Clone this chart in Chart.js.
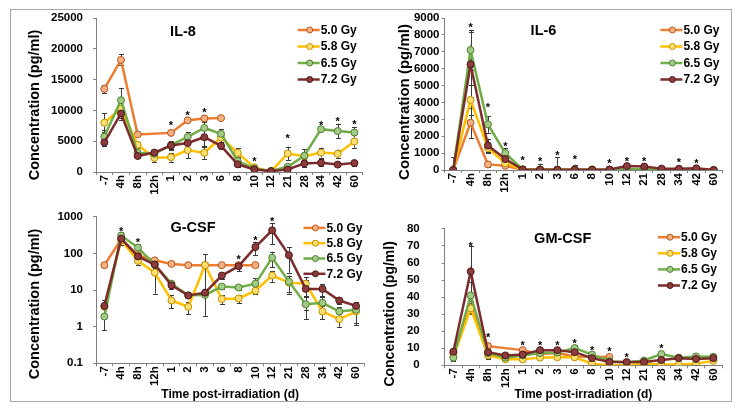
<!DOCTYPE html>
<html>
<head>
<meta charset="utf-8">
<script src="https://cdn.jsdelivr.net/npm/chart.js@4.4.0/dist/chart.umd.min.js"></script>
<style>
  body { margin: 0; background: #fff; width: 741px; height: 414px; overflow: hidden; position: relative; }
  #frame { position: absolute; left: 10px; top: 9px; width: 720px; height: 391px; border: 1px solid #a6a6a6; }
  canvas { position: absolute; }
</style>
</head>
<body>
<div id="frame"></div>
<canvas id="il8" width="370" height="200" style="left:0;top:0"></canvas>
<canvas id="il6" width="371" height="200" style="left:370px;top:0"></canvas>
<canvas id="gcsf" width="370" height="214" style="left:0;top:200px"></canvas>
<canvas id="gmcsf" width="371" height="214" style="left:370px;top:200px"></canvas>
<script>
const days = ['-7', '4h', '8h', '12h', '1', '2', '3', '6', '8', '10', '12', '21', '28', '34', '42', '60'];
const doses = ['5.0 Gy', '5.8 Gy', '6.5 Gy', '7.2 Gy'];

// IL-8 (pg/ml)
const il8_50 = [13500, 18200, 6100, null, 6350, 8400, 8700, 8750, null, null, null, null, null, null, null, null];
const il8_58 = [8000, 10250, 4400, 2300, 2400, 3550, 3100, 5600, 3100, 750, 100, 3000, 2550, 3150, 2950, 4950];
const il8_65 = [5750, 11650, 3100, 2950, 4350, 5700, 7150, 6200, 1800, 550, 150, 850, 2650, 6950, 6650, 6400];
const il8_72 = [4800, 9500, 2600, 3150, 4300, 4700, 5650, 4250, 1250, 400, 150, 400, 1400, 1500, 1200, 1450];
const il8Err50 = [650, 900, 300, 0, 300, 300, 500, 200, 0, 0, 0, 0, 0, 0, 0, 0];
const il8Err58 = [1500, 1500, 500, 700, 700, 1300, 1000, 800, 800, 200, 0, 1100, 500, 800, 700, 1000];
const il8Err65 = [1000, 2000, 500, 700, 700, 800, 1000, 800, 700, 200, 0, 300, 1100, 300, 1200, 900];
const il8Err72 = [500, 1000, 300, 500, 600, 800, 1500, 500, 400, 200, 0, 200, 600, 600, 300, 500];
const il8StarAt = [4, 5, 6, 9, 11, 13, 14, 15];
const il8StarVal = [7900, 9650, 10080, 2100, 5870, 8030, 8680, 8140];

// IL-6 (pg/ml)
const il6_50 = [0, 2800, 330, 250, 20, 20, 20, 20, 20, 20, null, null, null, null, null, null];
const il6_58 = [0, 4150, 1300, 400, 30, 20, 20, 20, 20, 20, 30, 30, 20, 20, 20, 0];
const il6_65 = [0, 7100, 2700, 1000, 30, 20, 20, 20, 20, 20, 50, 50, 20, 20, 20, 0];
const il6_72 = [0, 6250, 1450, 650, 30, 20, 20, 20, 20, 30, 230, 200, 80, 80, 100, 0];
const il6Err50 = [0, 900, 150, 100, 50, 50, 50, 50, 50, 50, 0, 0, 0, 0, 0, 0];
const il6Err58 = [0, 900, 300, 200, 50, 50, 50, 50, 50, 50, 50, 50, 50, 50, 50, 0];
const il6Err65 = [0, 1200, 500, 300, 100, 50, 50, 50, 50, 50, 50, 50, 50, 50, 50, 0];
const il6Err72 = [750, 1900, 400, 200, 200, 350, 750, 300, 50, 100, 150, 150, 50, 50, 50, 0];
const il6StarAt = [1, 2, 3, 4, 5, 6, 7, 9, 10, 11, 13, 14];
const il6StarVal = [8565, 3820, 1516, 690, 630, 985, 750, 550, 670, 630, 590, 550];

// G-CSF (pg/ml, log axis)
const gcsf_50 = [48, 245, 90, 65, 52, 48, 48, 48, 48, 48, null, null, null, null, null, null];
const gcsf_58 = [3.5, 230, 63, 30, 5.2, 3.5, 48, 5.7, 5.9, 9.6, 25, 16, 15, 2.6, 1.6, 2.6];
const gcsf_65 = [1.9, 310, 145, 50, 15, 7.2, 7.4, 12.5, 11.8, 15, 77, 17, 4.1, 4.5, 2.6, 2.9];
const gcsf_72 = [3.7, 255, 83, 50, 13.5, 7.1, 8.5, 25, 45, 150, 430, 90, 10.8, 10.8, 5.2, 3.7];
const gcsfErr50 = [0, 0, 0, 0, 0, 0, 0, 0, 0, 0, 0, 0, 0, 0, 0, 0];
const gcsfErr58 = [0, 60, 15, 22, 2, 1.3, 46, 1.5, 1.5, 2, 8, 8, 8, 1, 0.6, 1.3];
const gcsfErr65 = [1.1, 80, 35, 10, 3, 1, 1, 2, 2, 6, 35, 8, 2.5, 2, 0.8, 1.8];
const gcsfErr72 = [1.5, 60, 20, 8, 3, 1, 2, 5, 12, 60, 250, 60, 8, 4, 1, 1];
const gcsfStarAt = [1, 2, 8, 9, 10];
const gcsfStarVal = [467, 228, 80, 261, 850];
const gcsfTicks = [0.1, 1, 10, 100, 1000];

// GM-CSF (pg/ml)
const gm_50 = [7, 34, 11.2, null, 8.9, 6.6, 7.2, 5.2, 5, 4.9, null, null, null, null, null, null];
const gm_58 = [5, 33.4, 5.8, 3.5, 3.5, 4.5, 4.7, 4.7, 0.9, 0, 0, 1, 0.5, 0.4, 0.9, 2.6];
const gm_65 = [4.5, 41, 7.2, 4.5, 5.8, 7.2, 7.5, 10.1, 6.3, 2.4, 1.7, 2.8, 6.6, 4.5, 5.2, 5];
const gm_72 = [8, 55, 7.7, 5.8, 6.3, 8.9, 8.9, 7.7, 4.2, 1.9, 1.9, 1.9, 3.1, 4.2, 3.7, 4.2];
const gmErr50 = [1, 4, 2, 0, 1, 1, 1, 1, 1, 1, 0, 0, 0, 0, 0, 0];
const gmErr58 = [1, 3, 2, 1, 1, 1, 1, 1, 0.5, 0.5, 0.5, 0.5, 0.5, 0.5, 0.5, 1];
const gmErr65 = [2, 8, 3, 1, 1, 1.5, 1.5, 2, 1.5, 1, 1, 1, 2, 1, 1.5, 1];
const gmErr72 = [1.5, 15, 4, 1.5, 1.5, 2, 1.5, 2, 1, 1, 1, 1, 1.5, 2, 1, 1];
const gmStarAt = [1, 2, 4, 5, 6, 7, 8, 9, 10, 12];
const gmStarVal = [71.4, 18, 13.3, 13.3, 13.3, 14.1, 10.1, 9.3, 5.8, 11.2];

const lineColors = ['#ED7D31', '#FFC000', '#70AD47', '#7B2C2C'];
const markerFill = ['#F6B183', '#FFDF70', '#A2CC85', '#8E3B3B'];
const markerEdge = ['#B4561B', '#BF9000', '#507E32', '#4B1818'];
const FONT = "'Liberation Sans', Arial, sans-serif";
const AXIS = '#808080';

// titles, legend, stars and error bars drawn on top of the chart area
function extrasPlugin(p) {
  return {
    id: 'extras',
    beforeDatasetsDraw(chart) {
      const { ctx, chartArea: a, scales: { x, y } } = chart;
      ctx.save();
      ctx.strokeStyle = '#3a3a3a';
      ctx.lineWidth = 1;
      p.series.forEach((vals, i) => {
        const err = p.errors[i];
        vals.forEach((v, j) => {
          if (v == null || !err[j]) return;
          const px = Math.round(x.getPixelForValue(j)) + 0.5;
          const yt = Math.max(y.getPixelForValue(v + err[j]), a.top);
          const yb = Math.min(y.getPixelForValue(Math.max(v - err[j], y.min)), a.bottom);
          ctx.beginPath();
          ctx.moveTo(px, yt); ctx.lineTo(px, yb);
          ctx.moveTo(px - 2.5, Math.round(yt) + 0.5); ctx.lineTo(px + 2.5, Math.round(yt) + 0.5);
          if (v - err[j] > y.min) {
            ctx.moveTo(px - 2.5, Math.round(yb) + 0.5); ctx.lineTo(px + 2.5, Math.round(yb) + 0.5);
          }
          ctx.stroke();
        });
      });
      ctx.restore();
    },
    afterDraw(chart) {
      const { ctx, chartArea: a, scales: { x, y } } = chart;
      ctx.save();
      ctx.fillStyle = '#000';

      ctx.font = 'bold 14.5px ' + FONT;
      ctx.textAlign = 'center';
      ctx.textBaseline = 'middle';
      ctx.fillText(p.title, a.left + p.titlePos[0], a.top + p.titlePos[1]);

      ctx.save();
      ctx.font = 'bold ' + p.yTitleSize + 'px ' + FONT;
      ctx.translate(a.left + p.yTitlePos[0], a.top + p.yTitlePos[1]);
      ctx.rotate(-Math.PI / 2);
      ctx.fillText('Concentration (pg/ml)', 0, 0);
      ctx.restore();

      ctx.font = 'bold 11px ' + FONT;
      ctx.textBaseline = 'alphabetic';
      p.starAt.forEach((j, k) => {
        ctx.fillText('*', x.getPixelForValue(j), y.getPixelForValue(p.starVal[k]) + 6);
      });

      ctx.font = 'bold 12px ' + FONT;
      ctx.textAlign = 'left';
      ctx.textBaseline = 'middle';
      doses.forEach((d, i) => {
        const lx = a.right - p.legendPos[0];
        const ly = a.top + p.legendPos[1] + i * p.legendStep;
        ctx.strokeStyle = lineColors[i];
        ctx.lineWidth = 2.5;
        ctx.beginPath(); ctx.moveTo(lx, ly); ctx.lineTo(lx + 22, ly); ctx.stroke();
        ctx.beginPath(); ctx.arc(lx + 12, ly, 3, 0, Math.PI * 2);
        ctx.fillStyle = markerFill[i]; ctx.fill();
        ctx.lineWidth = 1; ctx.strokeStyle = markerEdge[i]; ctx.stroke();
        ctx.fillStyle = '#000';
        ctx.fillText(d, lx + 23, ly + 0.5);
      });
      ctx.restore();
    }
  };
}

function makeChart(id, p) {
  const tickFont = { family: FONT, size: 11.5, weight: 'bold' };
  const yScale = {
    type: p.log ? 'logarithmic' : 'linear',
    min: p.yMin, max: p.yMax,
    border: { display: true, color: AXIS, width: 1 },
    grid: { drawOnChartArea: false, drawTicks: true, tickLength: 3, color: AXIS },
    ticks: { color: '#000', font: tickFont, padding: p.yPad, stepSize: p.yStep, callback: v => String(v) },
    afterFit: s => { s.width = p.yWidth; }
  };
  if (p.log) yScale.afterBuildTicks = s => { s.ticks = gcsfTicks.map(v => ({ value: v })); };

  new Chart(document.getElementById(id), {
    type: 'line',
    data: {
      labels: days,
      datasets: p.series.map((d, i) => ({
        label: doses[i],
        data: d,
        borderColor: lineColors[i],
        backgroundColor: lineColors[i],
        pointBackgroundColor: markerFill[i],
        pointBorderColor: markerEdge[i],
        pointBorderWidth: 1,
        pointRadius: 3.5,
        borderWidth: 2.5,
        tension: 0,
        spanGaps: true,
        order: 3 - i
      }))
    },
    options: {
      responsive: false,
      animation: false,
      events: [],
      layout: { padding: { top: p.padTop, right: p.padRight, left: 0, bottom: 0 } },
      plugins: { legend: { display: false }, tooltip: { enabled: false } },
      scales: {
        x: {
          offset: true,
          border: { display: true, color: AXIS, width: 1 },
          grid: { offset: true, drawOnChartArea: false, drawTicks: true, tickLength: 3, color: AXIS },
          ticks: { color: '#000', font: tickFont, minRotation: 90, maxRotation: 90, autoSkip: false, padding: 0 },
          title: {
            display: p.xTitle, text: 'Time post-irradiation (d)', color: '#000',
            font: { family: FONT, size: 12, weight: 'bold' }, padding: { top: 0, bottom: 12 }
          },
          afterFit: s => { s.height = p.xHeight; }
        },
        y: yScale
      }
    },
    plugins: [extrasPlugin(p)]
  });
}

makeChart('il8', {
  series: [il8_50, il8_58, il8_65, il8_72],
  errors: [il8Err50, il8Err58, il8Err65, il8Err72],
  starAt: il8StarAt, starVal: il8StarVal,
  title: 'IL-8', titlePos: [87, 14],
  yTitlePos: [-61, 87], yTitleSize: 14.5,
  legendPos: [65, 12], legendStep: 16.5,
  yMin: 0, yMax: 25000, yStep: 5000, yWidth: 96, yPad: 10,
  padTop: 18, padRight: 7.3, xHeight: 28, xTitle: false
});

makeChart('il6', {
  series: [il6_50, il6_58, il6_65, il6_72],
  errors: [il6Err50, il6Err58, il6Err65, il6Err72],
  starAt: il6StarAt, starVal: il6StarVal,
  title: 'IL-6', titlePos: [99, 13],
  yTitlePos: [-39.5, 84], yTitleSize: 15,
  legendPos: [62, 12], legendStep: 16.5,
  yMin: 0, yMax: 9000, yStep: 1000, yWidth: 74.5, yPad: 2,
  padTop: 18, padRight: 18.6, xHeight: 30, xTitle: false
});

makeChart('gcsf', {
  series: [gcsf_50, gcsf_58, gcsf_65, gcsf_72],
  errors: [gcsfErr50, gcsfErr58, gcsfErr65, gcsfErr72],
  starAt: gcsfStarAt, starVal: gcsfStarVal,
  title: 'G-CSF', titlePos: [97, 11],
  yTitlePos: [-61, 87], yTitleSize: 14.5,
  legendPos: [61, 11], legendStep: 15.3,
  log: true, yMin: 0.1, yMax: 1000, yWidth: 96, yPad: 10,
  padTop: 10, padRight: 4.4, xHeight: 50.7, xTitle: true
});

makeChart('gmcsf', {
  series: [gm_50, gm_58, gm_65, gm_72],
  errors: [gmErr50, gmErr58, gmErr65, gmErr72],
  starAt: gmStarAt, starVal: gmStarVal,
  title: 'GM-CSF', titlePos: [118, 10],
  yTitlePos: [-55, 85], yTitleSize: 14,
  legendPos: [64, 8.3], legendStep: 16.1,
  yMin: 0, yMax: 80, yStep: 10, yWidth: 74.7, yPad: 22,
  padTop: 12.7, padRight: 19, xHeight: 48.7, xTitle: true
});
</script>
</body>
</html>
